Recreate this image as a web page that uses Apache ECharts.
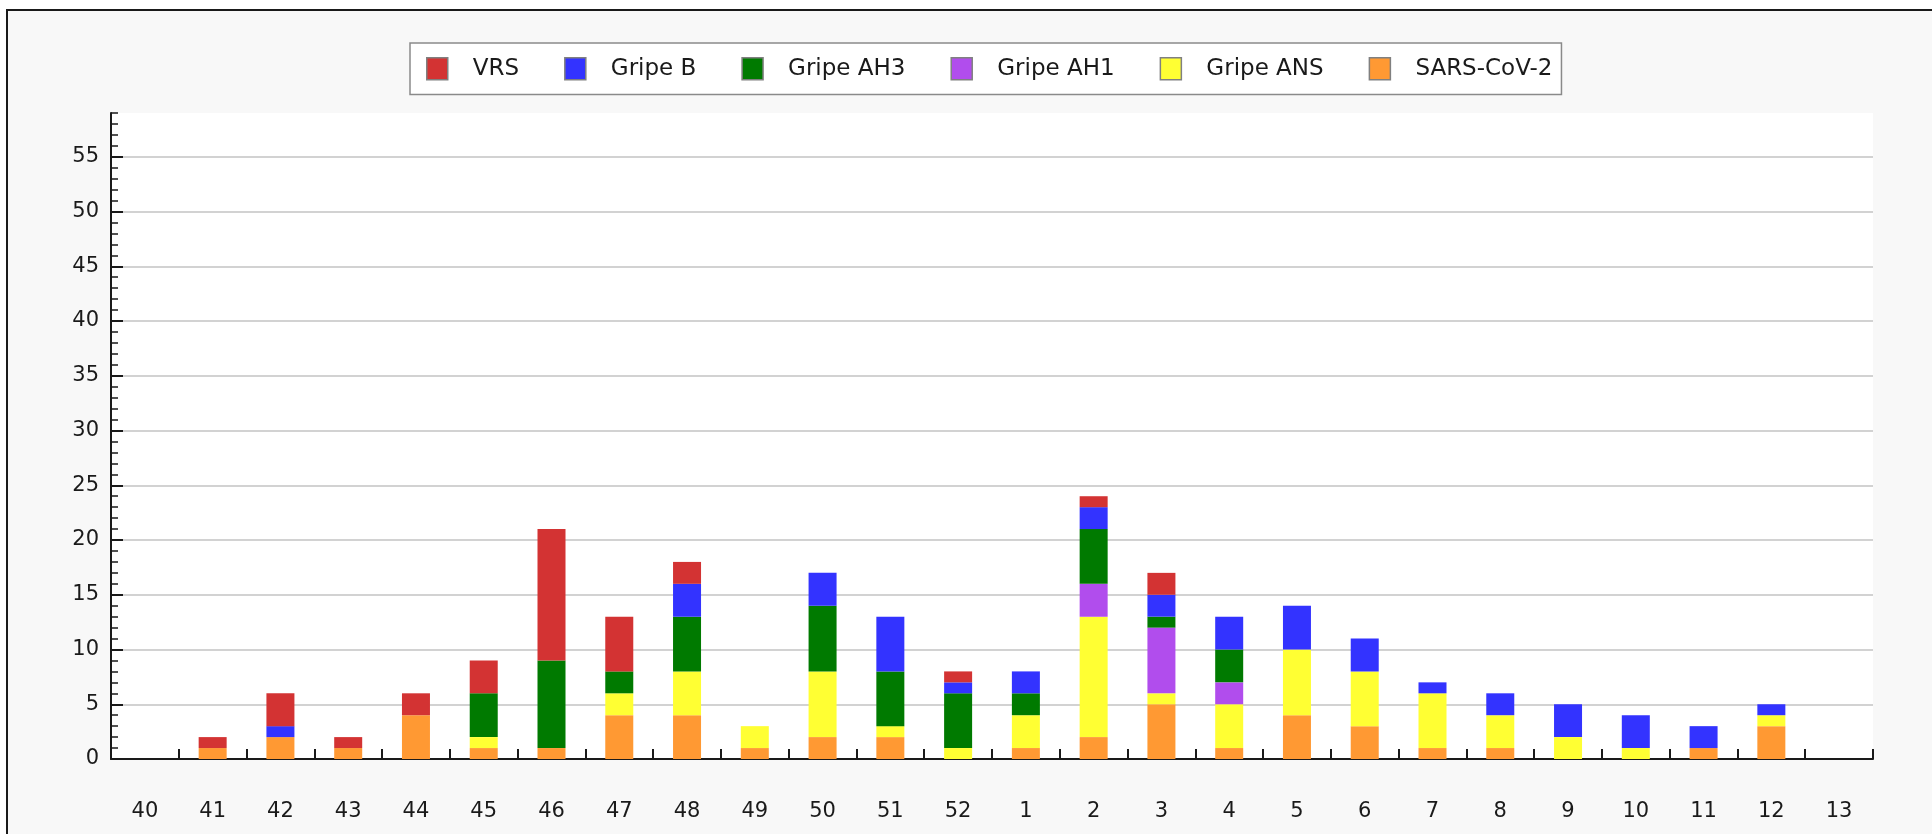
<!DOCTYPE html>
<html>
<head>
<meta charset="utf-8">
<title>Virus respiratorios por semana</title>
<script src="https://cdn.jsdelivr.net/npm/echarts@6/dist/echarts.min.js"></script>
<style>
  html, body { margin: 0; padding: 0; background: #ffffff; overflow: hidden; }
  #frame {
    position: absolute; left: 6px; top: 9px; width: 1960px; height: 860px;
    border: 2px solid #1a1a1a; background: #f8f8f8;
  }
  #chart { position: absolute; left: 0; top: 0; width: 1932px; height: 834px; }
</style>
</head>
<body>
<div id="frame"></div>
<div id="chart"></div>
<script>
// semanas epidemiologicas (40..52 de un ano, 1..13 del siguiente)
const weeks = ['40', '41', '42', '43', '44', '45', '46', '47', '48', '49', '50', '51', '52',
  '1', '2', '3', '4', '5', '6', '7', '8', '9', '10', '11', '12', '13']

// valores por serie, en el orden de weeks
const sarsCov2 = [0, 1, 2, 1, 4, 1, 1, 4, 4, 1, 2, 2, 0, 1, 2, 5, 1, 4, 3, 1, 1, 0, 0, 1, 3, 0]
const gripeANS = [0, 0, 0, 0, 0, 1, 0, 2, 4, 2, 6, 1, 1, 3, 11, 1, 4, 6, 5, 5, 3, 2, 1, 0, 1, 0]
const gripeAH1 = [0, 0, 0, 0, 0, 0, 0, 0, 0, 0, 0, 0, 0, 0, 3, 6, 2, 0, 0, 0, 0, 0, 0, 0, 0, 0]
const gripeAH3 = [0, 0, 0, 0, 0, 4, 8, 2, 5, 0, 6, 5, 5, 2, 5, 1, 3, 0, 0, 0, 0, 0, 0, 0, 0, 0]
const gripeB = [0, 0, 1, 0, 0, 0, 0, 0, 3, 0, 3, 5, 1, 2, 2, 2, 3, 4, 3, 1, 2, 3, 3, 2, 1, 0]
const vrs = [0, 1, 3, 1, 2, 3, 12, 5, 2, 0, 0, 0, 1, 0, 1, 2, 0, 0, 0, 0, 0, 0, 0, 0, 0, 0]

const yTicks = [0, 5, 10, 15, 20, 25, 30, 35, 40, 45, 50, 55]
const yMax = 59

// de abajo hacia arriba en la pila
const stackSeries = [
  { name: 'SARS-CoV-2', data: sarsCov2, color: '#ff9933' },
  { name: 'Gripe ANS', data: gripeANS, color: '#ffff33' },
  { name: 'Gripe AH1', data: gripeAH1, color: '#b14ded' },
  { name: 'Gripe AH3', data: gripeAH3, color: '#007a00' },
  { name: 'Gripe B', data: gripeB, color: '#3333ff' },
  { name: 'VRS', data: vrs, color: '#d33333' },
]

const FONT = 'DejaVu Sans'
const INK = '#1a1a1a'

const chart = echarts.init(document.getElementById('chart'), null, { renderer: 'canvas' })

chart.setOption({
  backgroundColor: 'transparent',
  animation: false,
  textStyle: { fontFamily: FONT },
  legend: {
    data: stackSeries.map(s => s.name).reverse(),
    left: 410,
    top: 43,
    orient: 'horizontal',
    icon: 'rect',
    itemWidth: 21,
    itemHeight: 22,
    itemGap: 45,
    padding: [14, 9, 14, 16],
    backgroundColor: '#ffffff',
    borderColor: '#8a8a8a',
    borderWidth: 1.5,
    borderRadius: 0,
    itemStyle: { borderColor: '#808080', borderWidth: 1.5 },
    textStyle: {
      fontFamily: FONT,
      fontSize: 23,
      color: INK,
      padding: [0, 0, 0, 20],
    },
  },
  grid: {
    left: 111,
    top: 113,
    right: 59,
    bottom: 75,
    show: true,
    backgroundColor: '#ffffff',
    borderWidth: 0,
    containLabel: false,
  },
  xAxis: {
    type: 'category',
    data: weeks,
    boundaryGap: true,
    axisLine: { show: true, lineStyle: { color: INK, width: 2 } },
    axisTick: { show: true, inside: true, length: 10, interval: 0, lineStyle: { color: INK, width: 2 } },
    axisLabel: { interval: 0, margin: 42, fontFamily: FONT, fontSize: 21, color: INK },
    splitLine: { show: false },
  },
  yAxis: [
    {
      type: 'value',
      min: 0,
      max: yMax,
      interval: 5,
      axisLine: { show: true, lineStyle: { color: INK, width: 2 } },
      axisTick: { show: true, inside: true, length: 12, customValues: yTicks, lineStyle: { color: INK, width: 2 } },
      axisLabel: {
        customValues: yTicks,
        margin: 12,
        fontFamily: FONT,
        fontSize: 21,
        color: INK,
      },
      splitLine: {
        show: true,
        showMinLine: false,
        lineStyle: { color: '#d2d2d2', width: 2 },
      },
    },
    {
      // marcas menores, una por unidad
      type: 'value',
      position: 'left',
      min: 0,
      max: yMax,
      interval: 1,
      axisLine: { show: false },
      axisTick: { show: true, inside: true, length: 7, lineStyle: { color: INK, width: 1.5 } },
      axisLabel: { show: false },
      splitLine: { show: false },
    },
  ],
  series: stackSeries.map(s => ({
    name: s.name,
    type: 'bar',
    stack: 'total',
    barWidth: 28,
    data: s.data,
    itemStyle: { color: s.color },
    emphasis: { disabled: true },
  })),
})
</script>
</body>
</html>
